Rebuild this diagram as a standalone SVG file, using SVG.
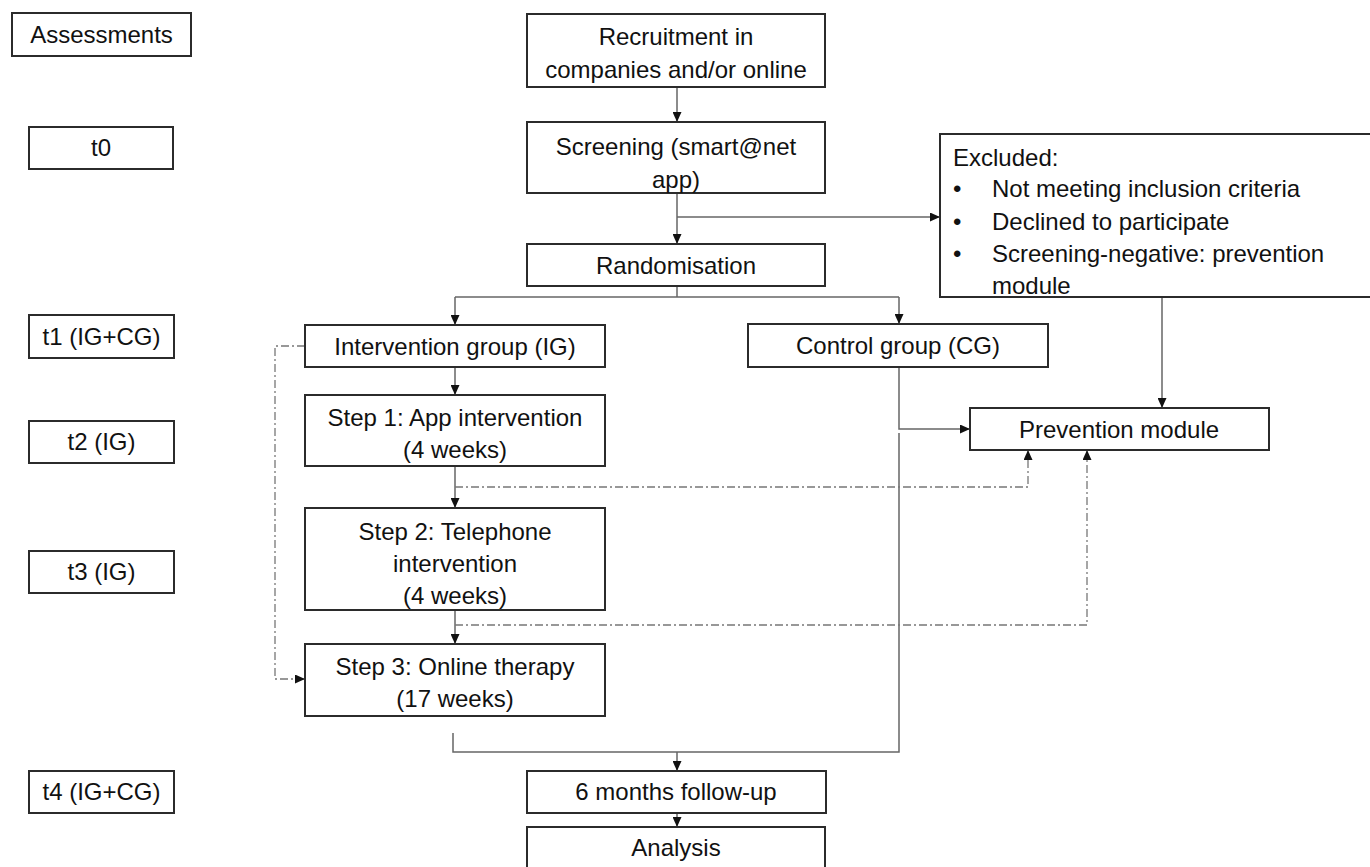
<svg xmlns="http://www.w3.org/2000/svg" width="1370" height="867" viewBox="0 0 1370 867">
<defs>
<marker id="ah" markerUnits="userSpaceOnUse" markerWidth="10" markerHeight="9" refX="10" refY="4.5" orient="auto">
<path d="M0,0 L10,4.5 L0,9 z" fill="#111"/>
</marker>
<style>
.box{fill:#fff;stroke:#2b2b2b;stroke-width:2}
.t{font-family:"Liberation Sans",Arial,sans-serif;font-size:24px;fill:#111;text-anchor:middle}
.tl{font-family:"Liberation Sans",Arial,sans-serif;font-size:24px;fill:#111}
.c{fill:none;stroke:#666;stroke-width:1.5}
.a{marker-end:url(#ah)}
.dd{fill:none;stroke:#777;stroke-width:1.3;stroke-dasharray:8 3 2 3}
</style>
</defs>
<rect width="1370" height="867" fill="#fff"/>
<g id="connectors">
<path class="c a" d="M677,87 V122"/>
<path class="c a" d="M677,193 V244"/>
<path class="c a" d="M677,217 H940"/>
<path class="c" d="M677,286 V297"/>
<path class="c" d="M455,297 H899"/>
<path class="c a" d="M455,297 V325"/>
<path class="c a" d="M899,297 V324"/>
<path class="c a" d="M455,367 V395"/>
<path class="c a" d="M455,466 V508"/>
<path class="c a" d="M455,610 V644"/>
<path class="c a" d="M1162,297 V408"/>
<path class="c a" d="M899,367 V429 H970"/>
<path class="c" d="M899,433 V752 H453 V733"/>
<path class="c a" d="M677,752 V771"/>
<path class="c a" d="M677,813 V827"/>
<path class="dd a" d="M455,487 H1028 V450"/>
<path class="dd a" d="M455,625 H1087 V450"/>
<path class="dd a" d="M305,346 H275 V679 H305"/>
</g>
<g id="n-assess"><rect class="box" x="12" y="13" width="179" height="43"/><text class="t" x="101.5" y="43">Assessments</text></g>
<g id="n-t0"><rect class="box" x="29" y="127" width="144" height="42"/><text class="t" x="101" y="156">t0</text></g>
<g id="n-t1"><rect class="box" x="29" y="315" width="145" height="43"/><text class="t" x="101.5" y="345">t1 (IG+CG)</text></g>
<g id="n-t2"><rect class="box" x="29" y="421" width="145" height="42"/><text class="t" x="101.5" y="450">t2 (IG)</text></g>
<g id="n-t3"><rect class="box" x="29" y="551" width="145" height="42"/><text class="t" x="101.5" y="580">t3 (IG)</text></g>
<g id="n-t4"><rect class="box" x="29" y="771" width="145" height="42"/><text class="t" x="101.5" y="800">t4 (IG+CG)</text></g>
<g id="n-recruit"><rect class="box" x="527" y="14" width="298" height="73"/><text class="t" x="676" y="45">Recruitment in</text><text class="t" x="676" y="78">companies and/or online</text></g>
<g id="n-screen"><rect class="box" x="527" y="122" width="298" height="71"/><text class="t" x="676" y="155">Screening (smart@net</text><text class="t" x="676" y="188">app)</text></g>
<g id="n-random"><rect class="box" x="527" y="244" width="298" height="42"/><text class="t" x="676" y="274">Randomisation</text></g>
<g id="n-excluded"><rect class="box" x="940" y="134" width="432" height="163"/>
<text class="tl" x="953" y="166">Excluded:</text>
<text class="tl" x="953" y="197">•</text><text class="tl" x="992" y="197">Not meeting inclusion criteria</text>
<text class="tl" x="953" y="230">•</text><text class="tl" x="992" y="230">Declined to participate</text>
<text class="tl" x="953" y="262">•</text><text class="tl" x="992" y="262">Screening-negative: prevention</text>
<text class="tl" x="992" y="294">module</text></g>
<g id="n-ig"><rect class="box" x="305" y="325" width="300" height="42"/><text class="t" x="455" y="355">Intervention group (IG)</text></g>
<g id="n-cg"><rect class="box" x="748" y="324" width="300" height="43"/><text class="t" x="898" y="354">Control group (CG)</text></g>
<g id="n-step1"><rect class="box" x="305" y="395" width="300" height="71"/><text class="t" x="455" y="426">Step 1: App intervention</text><text class="t" x="455" y="458">(4 weeks)</text></g>
<g id="n-prev"><rect class="box" x="970" y="408" width="299" height="42"/><text class="t" x="1119" y="438">Prevention module</text></g>
<g id="n-step2"><rect class="box" x="305" y="508" width="300" height="102"/><text class="t" x="455" y="540">Step 2: Telephone</text><text class="t" x="455" y="572">intervention</text><text class="t" x="455" y="604">(4 weeks)</text></g>
<g id="n-step3"><rect class="box" x="305" y="644" width="300" height="72"/><text class="t" x="455" y="675">Step 3: Online therapy</text><text class="t" x="455" y="707">(17 weeks)</text></g>
<g id="n-followup"><rect class="box" x="527" y="771" width="299" height="42"/><text class="t" x="676" y="800">6 months follow-up</text></g>
<g id="n-analysis"><rect class="box" x="527" y="827" width="298" height="45"/><text class="t" x="676" y="856">Analysis</text></g>
</svg>
